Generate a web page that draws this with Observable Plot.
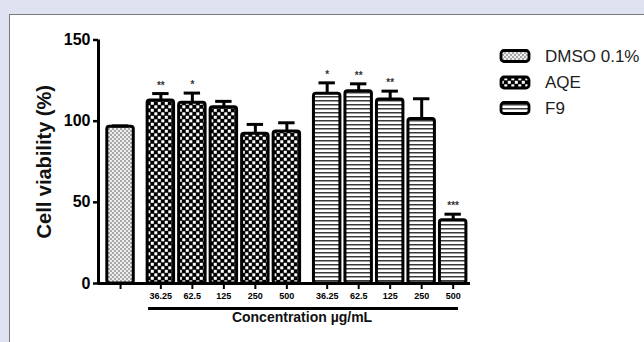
<!DOCTYPE html>
<html><head><meta charset="utf-8">
<script src="https://cdn.jsdelivr.net/npm/d3@7"></script>
<script src="https://cdn.jsdelivr.net/npm/@observablehq/plot@0.6"></script>
<style>
html,body{margin:0;padding:0;}
body{width:644px;height:342px;background:#dfe3f1;position:relative;overflow:hidden;font-family:"Liberation Sans",Arial,sans-serif;}
#panel{position:absolute;left:9px;top:14px;width:660px;height:360px;background:#fff;border-left:1.5px solid #7a7a7a;border-top:1.5px solid #7a7a7a;}
#chart{position:absolute;left:0;top:0;}
#legend{position:absolute;left:0;top:0;}
</style></head><body>
<div id="panel"></div>
<svg width="0" height="0" style="position:absolute">
<defs>
<pattern id="pDMSO" width="4" height="4" patternUnits="userSpaceOnUse">
 <rect width="4" height="4" fill="#eeeeee"/><rect width="2" height="2" fill="#a8a8a8"/><rect x="2" y="2" width="2" height="2" fill="#a8a8a8"/>
</pattern>
<pattern id="pAQE" width="7" height="7" patternUnits="userSpaceOnUse">
 <rect width="7" height="7" fill="#000"/><rect x="0.3" y="0.3" width="3" height="3" fill="#fff"/><rect x="3.8" y="3.8" width="3" height="3" fill="#fff"/>
</pattern>
<pattern id="pF9" width="4" height="4" patternUnits="userSpaceOnUse">
 <rect width="4" height="4" fill="#fff"/><rect y="0" width="4" height="1.5" fill="#3a3a3a"/>
</pattern>
</defs>
</svg>
<div id="chart"></div>
<script>
// ---- data ----
const groups = ["DMSO 0.1%", "AQE", "F9"];
const groupFills = ["url(#pDMSO)", "url(#pAQE)", "url(#pF9)"];
const concentrations = ["36.25", "62.5", "125", "250", "500"];
const dmsoValues = [96.5];
const dmsoErrors = [0.6];
const aqeValues = [112.8, 111.3, 108.6, 92.2, 93.6];
const aqeErrors = [4.2, 6.0, 3.6, 5.8, 5.4];
const aqeStars = ["**", "*", "", "", ""];
const f9Values = [116.9, 118.5, 113.4, 101.4, 39.0];
const f9Errors = [6.7, 4.5, 5.1, 12.4, 3.7];
const f9Stars = ["*", "**", "**", "", "***"];
const yTicks = [0, 50, 100, 150];
const yTitle = "Cell viability (%)";
const xTitle = "Concentration µg/mL";

// ---- build rows ----
const groupGap = 0.28;
const series = [
  {group: groups[0], values: dmsoValues, errors: dmsoErrors, stars: [""], labels: [""]},
  {group: groups[1], values: aqeValues, errors: aqeErrors, stars: aqeStars, labels: concentrations},
  {group: groups[2], values: f9Values, errors: f9Errors, stars: f9Stars, labels: concentrations}
];
const rows = [];
let slot = 0;
series.forEach((s, g) => {
  s.values.forEach((v, i) => {
    rows.push({group: s.group, value: v, error: s.errors[i], star: s.stars[i], label: s.labels[i], pos: slot + g * groupGap});
    slot++;
  });
});
const half = 0.42, capHalf = 0.26;
const xDomain = [-0.7, 11.11];
const labelMap = new Map(rows.map(d => [d.pos, d.label]));
const concRows = rows.filter(d => d.group !== groups[0]);
const firstPos = concRows[0].pos, lastPos = concRows[concRows.length - 1].pos;

const chart = Plot.plot({
  width: 644, height: 342,
  marginLeft: 98, marginRight: 174, marginTop: 39.5, marginBottom: 59,
  style: {background: "transparent", fontFamily: "Liberation Sans, Arial, sans-serif", color: "#000", overflow: "visible"},
  x: {type: "linear", domain: xDomain, axis: null},
  y: {domain: [0, 150], axis: null},
  color: {domain: groups, range: groupFills},
  marks: [
    Plot.rectY(rows, {x1: d => d.pos - half, x2: d => d.pos + half, y: "value", fill: "group", stroke: "#000", strokeWidth: 3, rx: 2.5}),
    Plot.ruleX(rows, {x: "pos", y1: "value", y2: d => d.value + d.error, stroke: "#000", strokeWidth: 3}),
    Plot.ruleY(rows, {y: d => d.value + d.error, x1: d => d.pos - capHalf, x2: d => d.pos + capHalf, stroke: "#000", strokeWidth: 3}),
    Plot.text(rows.filter(d => d.star), {x: "pos", y: d => d.value + d.error, text: "star", dy: -8, fontSize: 10, fontWeight: "bold", fill: "#333"}),
    Plot.ruleY([0], {stroke: "#000", strokeWidth: 3}),
    Plot.ruleX([xDomain[0]], {y1: 0, y2: 150, stroke: "#000", strokeWidth: 3}),
    Plot.axisY({ticks: yTicks, tickSize: 5, tickPadding: 3, fontSize: 16, fontWeight: "bold", label: null, strokeWidth: 2.5, tickFormat: d => String(d)}),
    Plot.axisX({ticks: rows.map(d => d.pos), tickSize: 6, tickPadding: 3, tickFormat: d => labelMap.get(d) || "", fontSize: 9, fontWeight: "bold", fontFamily: "Liberation Sans Narrow, Liberation Sans, sans-serif", strokeWidth: 2, label: null}),
    Plot.ruleY([0], {x1: firstPos - 0.39, x2: lastPos + 0.17, dy: 25, stroke: "#000", strokeWidth: 3}),
    Plot.text([xTitle], {x: (firstPos + lastPos) / 2, frameAnchor: "bottom", lineAnchor: "middle", dy: 34, dx: -5, fontSize: 14, fontWeight: "bold", fill: "#111"}),
    Plot.text([yTitle], {frameAnchor: "left", textAnchor: "middle", lineAnchor: "middle", rotate: -90, dx: -54, fontSize: 20, fontWeight: "bold", fill: "#111"})
  ]
});
document.getElementById("chart").appendChild(chart);

// ---- legend ----
const legendY = [56, 82.5, 108];
const leg = d3.select("body").append("svg").attr("id", "legend").attr("width", 644).attr("height", 342);
groups.forEach((g, i) => {
  leg.append("rect").attr("x", 501).attr("y", legendY[i] - 5.5).attr("width", 28).attr("height", 11).attr("rx", 3)
    .attr("fill", groupFills[i]).attr("stroke", "#000").attr("stroke-width", 2.8);
  leg.append("text").attr("x", 545).attr("y", legendY[i]).attr("dominant-baseline", "central")
    .attr("font-size", 17).attr("fill", "#222").attr("font-family", "Liberation Sans, Arial, sans-serif").text(g);
});
</script>
</body></html>
